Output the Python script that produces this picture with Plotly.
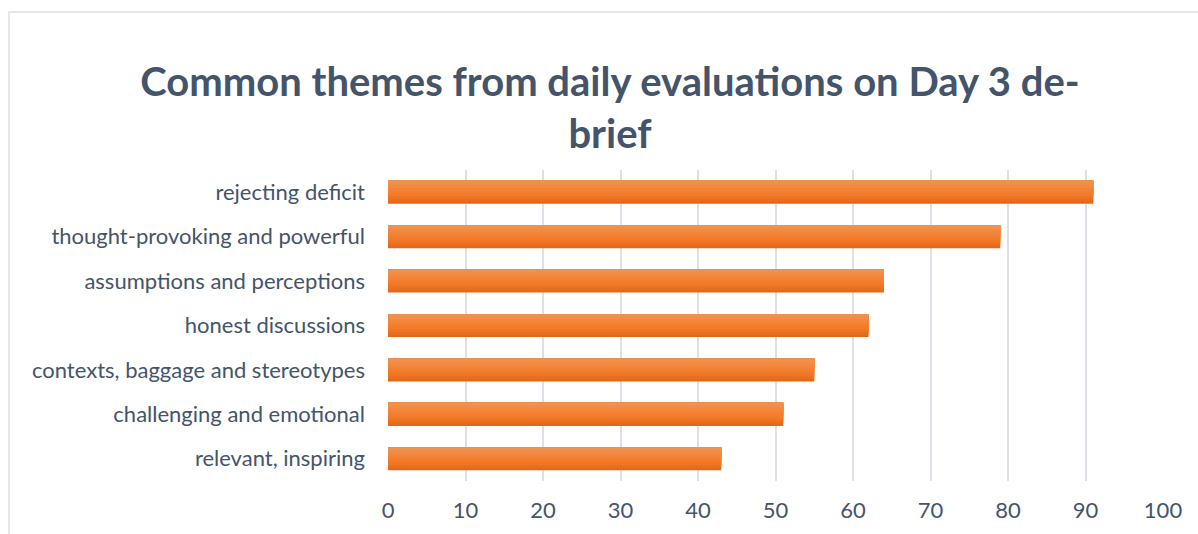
import plotly.graph_objects as go

categories = [
    "rejecting deficit",
    "thought-provoking and powerful",
    "assumptions and perceptions",
    "honest discussions",
    "contexts, baggage and stereotypes",
    "challenging and emotional",
    "relevant, inspiring",
]
values = [91, 79, 64, 62, 55, 51, 43]
x_ticks = [0, 10, 20, 30, 40, 50, 60, 70, 80, 90, 100]
title_text = "Common themes from daily evaluations on Day 3 de-<br>brief"

W, H = 1198, 534
L, R, T, B = 388, 35, 170, 53
pw, ph = W - L - R, H - T - B

def px(x):
    return (x - L) / pw

def py(y):
    return (H - B - y) / ph

# gradient bands (bottom dark -> top light)
band_colors = ["#E4681A", "#E96F1F", "#EE7524", "#F27A29", "#F47E2E",
               "#F38336", "#F2893F", "#F08E48", "#EF914F"]
bar_w = 0.52
n = len(band_colors)

fig = go.Figure()
for k, c in enumerate(band_colors):
    w = bar_w * (n - k) / n
    fig.add_trace(go.Bar(
        x=values, y=categories, orientation="h",
        marker=dict(color=c, line=dict(width=0)),
        width=w, offset=-bar_w / 2,
        showlegend=False, hoverinfo="x+y",
    ))

fig.update_layout(
    width=W, height=H,
    margin=dict(l=L, r=R, t=T, b=B, pad=0),
    paper_bgcolor="white", plot_bgcolor="white",
    barmode="overlay",
    font=dict(family="Lato, Open Sans, sans-serif", color="#44546A", size=22),
    title=dict(
        text=title_text,
        x=px(610), xref="paper", xanchor="center",
        y=1 - 96 / H, yref="container", yanchor="middle",
        font=dict(family="Lato, Open Sans, sans-serif", size=40, color="#44546A", weight="bold"),
    ),
    xaxis=dict(
        range=[0, 100], tickvals=x_ticks, showgrid=True,
        gridcolor="#DCE1E8", gridwidth=1.5, zeroline=False,
        showline=False, ticks="", ticklabelstandoff=14,
        tickfont=dict(size=22, color="#44546A"), fixedrange=True,
    ),
    yaxis=dict(
        type="category", autorange="reversed", showgrid=False,
        zeroline=False, showline=False, ticks="", ticklabelstandoff=22,
        tickfont=dict(size=22, color="#44546A"), fixedrange=True,
    ),
    shapes=[dict(
        type="rect", xref="paper", yref="paper",
        x0=px(9), x1=px(1210), y0=py(12), y1=py(545),
        line=dict(color="#DCE1E8", width=1.5), fillcolor="rgba(0,0,0,0)",
        layer="below",
    )],
)

fig.write_html("out.html")
